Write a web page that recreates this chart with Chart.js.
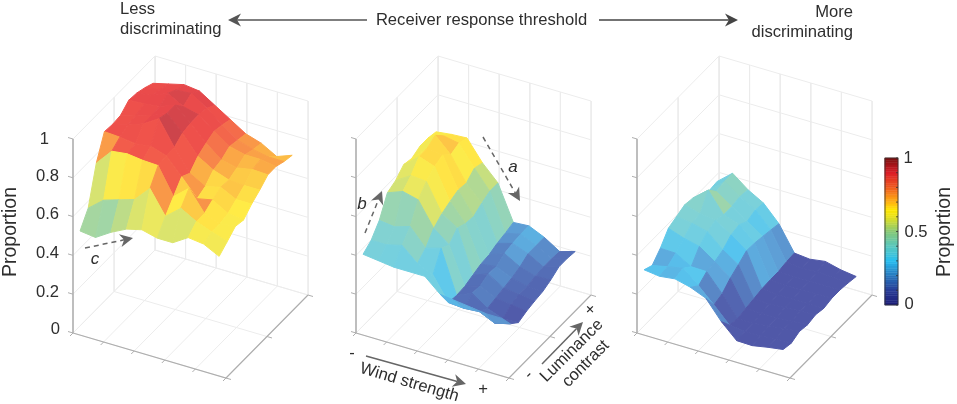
<!DOCTYPE html>
<html>
<head>
<meta charset="utf-8">
<title>Proportion surfaces</title>
<script src="https://cdn.jsdelivr.net/npm/chart.js@4/dist/chart.umd.min.js"></script>
<style>
html, body { margin: 0; padding: 0; background: #fff; }
canvas { display: block; }
</style>
</head>
<body>
<canvas id="chart" width="957" height="404"></canvas>
<script>
// proportion: rows = luminance contrast (front to back), columns = wind strength
const lessDiscriminating = [
    [.52, .51, .56, .60, .62, .60, .60, .65, .64, .60],
    [.595, .66, .685, .71, .79, .67, .735, .69, .66, .634],
    [.785, .87, .88, .87, .866, .73, .796, .69, .66, .67],
    [.905, .90, .89, .90, .875, .79, .70, .717, .67, .66],
    [.90, .92, .95, 1.0, .875, .765, .72, .74, .70, .70],
    [.905, .93, .95, .985, .906, .81, .763, .735, .73, .73],
    [.94, .945, .955, .985, .915, .835, .773, .755, .77, .766],
    [.935, .945, .98, .935, .916, .855, .80, .78, .78, .767],
    [.92, .935, .955, .96, .907, .845, .79, .765, .75, .75],
    [.90, .92, .94, .93, .88, .83, .78, .755, .71, .74],
];
const midDiscriminating = [
    [.40, .39, .38, .38, .38, .31, .30, .29, .28, .28],
    [.43, .43, .45, .38, .345, .226, .22, .226, .19, .21],
    [.49, .48, .505, .417, .44, .22, .255, .20, .17, .174],
    [.59, .62, .60, .477, .415, .224, .25, .21, .20, .19],
    [.61, .66, .652, .51, .46, .24, .27, .22, .21, .20],
    [.65, .715, .687, .53, .44, .255, .265, .23, .21, .207],
    [.64, .716, .705, .547, .434, .26, .29, .245, .22, .225],
    [.66, .74, .663, .54, .46, .277, .30, .27, .225, .25],
    [.66, .695, .68, .575, .48, .287, .305, .27, .225, .25],
    [.65, .66, .665, .56, .48, .30, .306, .27, .22, .244],
];
const moreDiscriminating = [
    [.32, .31, .32, .30, .267, .17, .095, .093, .108, .12],
    [.30, .317, .332, .265, .19, .11, .10, .10, .11, .11],
    [.346, .344, .298, .296, .205, .10, .10, .11, .12, .128],
    [.407, .379, .36, .305, .243, .11, .11, .11, .115, .12],
    [.425, .414, .394, .323, .27, .118, .115, .12, .125, .13],
    [.443, .42, .41, .358, .30, .127, .12, .12, .12, .12],
    [.435, .50, .396, .368, .297, .13, .125, .125, .13, .13],
    [.41, .45, .396, .343, .289, .13, .13, .13, .13, .13],
    [.388, .46, .405, .36, .28, .138, .13, .135, .13, .124],
    [.394, .46, .398, .353, .27, .142, .134, .146, .126, .115],
];
const windTicks = [0, 0.2, 0.4, 0.6, 0.8, 1];
const contrastTicks = [0, 0.5, 1];
const proportionTicks = [0, 0.2, 0.4, 0.6, 0.8, 1];
const proportionLabels = ["0", "0.2", "0.4", "0.6", "0.8", "1"];
const colorbarTicks = [0, 0.1, 0.2, 0.3, 0.4, 0.5, 0.6, 0.7, 0.8, 0.9, 1];
const panelOrigins = [73, 356, 637];

// value -> washed out face colour
const faceStops = [
    [.16, 80, 88, 168], [.2, 82, 98, 175], [.26, 88, 130, 195], [.295, 95, 165, 218],
    [.325, 85, 198, 240], [.38, 115, 207, 225], [.43, 130, 210, 210], [.47, 145, 212, 190],
    [.52, 165, 214, 160], [.57, 195, 222, 130], [.62, 235, 232, 95], [.67, 255, 235, 70],
    [.72, 254, 215, 70], [.77, 251, 170, 70], [.82, 246, 125, 75], [.88, 241, 85, 75],
    [.95, 232, 72, 75], [1, 205, 68, 75],
];
const barStops = [
    [0, 30, 30, 120], [.1, 40, 60, 150], [.2, 40, 120, 190], [.3, 40, 190, 240],
    [.4, 90, 200, 190], [.5, 135, 200, 120], [.6, 230, 225, 30], [.65, 255, 230, 0],
    [.7, 255, 180, 20], [.8, 240, 90, 30], [.9, 220, 30, 40], [1, 120, 15, 15],
];

function pickColor(stops, v) {
    if (v <= stops[0][0]) return `rgb(${stops[0].slice(1).join(",")})`;
    for (let k = 1; k < stops.length; k++) {
        if (v <= stops[k][0]) {
            const a = stops[k - 1], b = stops[k];
            const t = (v - a[0]) / (b[0] - a[0]);
            const c = [1, 2, 3].map((n) => Math.round(a[n] + (b[n] - a[n]) * t));
            return `rgb(${c.join(",")})`;
        }
    }
    return `rgb(${stops[stops.length - 1].slice(1).join(",")})`;
}

// 3D box -> page position
function project(x0, wind, contrast, z) {
    return {
        x: x0 + wind * 153 + contrast * 82,
        y: 333 + wind * 45 - contrast * 83 - z * 194,
    };
}

function lineSet(points, color, width) {
    return {
        data: points, showLine: true, pointRadius: 0, fill: false,
        borderColor: color, borderWidth: width, tension: 0,
    };
}

function boxDatasets(x0) {
    const sets = [];
    const grid = "#ececec", axis = "#aeaeae";
    proportionTicks.forEach((z) => {
        sets.push(lineSet([project(x0, 0, 0, z), project(x0, 0, 1, z), project(x0, 1, 1, z)], grid, 1));
    });
    windTicks.forEach((u) => {
        sets.push(lineSet([project(x0, u, 1, 1), project(x0, u, 1, 0), project(x0, u, 0, 0)], grid, 1));
    });
    contrastTicks.forEach((v) => {
        sets.push(lineSet([project(x0, 0, v, 1), project(x0, 0, v, 0), project(x0, 1, v, 0)], grid, 1));
    });
    sets.push(lineSet([project(x0, 0, 0, 0), project(x0, 0, 0, 1)], axis, 1.5));
    sets.push(lineSet([project(x0, 0, 0, 0), project(x0, 1, 0, 0), project(x0, 1, 1, 0)], axis, 1.2));
    proportionTicks.forEach((z) => {
        const p = project(x0, 0, 0, z);
        sets.push(lineSet([p, { x: p.x - 5, y: p.y - 1.5 }], axis, 1));
    });
    windTicks.forEach((u) => {
        const p = project(x0, u, 0, 0);
        sets.push(lineSet([p, { x: p.x - 3, y: p.y + 3 }], axis, 1));
    });
    contrastTicks.forEach((v) => {
        const p = project(x0, 1, v, 0);
        sets.push(lineSet([p, { x: p.x + 5, y: p.y + 1.5 }], axis, 1));
    });
    return sets;
}

function surfaceDatasets(x0, heights) {
    const sets = [];
    const at = (i, j) => project(x0, 0.03 + 0.101 * i, 0.03 + 0.099 * j, heights[j][i]);
    // back rows first, the front ones paint over them
    for (let j = heights.length - 2; j >= 0; j--) {
        for (let i = 0; i < heights[j].length - 1; i++) {
            const color = pickColor(faceStops, heights[j][i]);
            sets.push({
                data: [at(i, j), at(i + 1, j), at(i + 1, j + 1), at(i, j + 1), at(i, j)],
                showLine: true, pointRadius: 0, tension: 0, fill: "shape",
                backgroundColor: color, borderColor: color, borderWidth: 1,
            });
        }
    }
    return sets;
}

function colorbarDatasets() {
    const sets = [];
    const toY = (v) => 305 - v * 147;
    for (let k = 0; k < 64; k++) {
        const color = pickColor(barStops, (k + 0.5) / 64);
        const a = toY(k / 64), b = toY((k + 1) / 64);
        sets.push({
            data: [{ x: 885, y: a }, { x: 898, y: a }, { x: 898, y: b }, { x: 885, y: b }, { x: 885, y: a }],
            showLine: true, pointRadius: 0, fill: "shape",
            backgroundColor: color, borderColor: color, borderWidth: 0.5,
        });
    }
    colorbarTicks.forEach((v) => {
        sets.push(lineSet([{ x: 896, y: toY(v) }, { x: 898, y: toY(v) }], "#333", 0.8));
    });
    return sets;
}

// painted in list order here, Chart.js draws the first dataset last so it is reversed below
let allSets = [];
panelOrigins.forEach((x0) => { allSets = allSets.concat(boxDatasets(x0)); });
allSets = allSets.concat(surfaceDatasets(panelOrigins[0], lessDiscriminating));
allSets = allSets.concat(surfaceDatasets(panelOrigins[1], midDiscriminating));
allSets = allSets.concat(surfaceDatasets(panelOrigins[2], moreDiscriminating));
allSets = allSets.concat(colorbarDatasets());
allSets.reverse();

function label(ctx, text, x, y, size, opts) {
    const o = opts || {};
    ctx.save();
    ctx.translate(x, y);
    ctx.rotate((o.angle || 0) * Math.PI / 180);
    ctx.font = `${o.italic ? "italic " : ""}${size}px "Liberation Sans", Arial, sans-serif`;
    ctx.fillStyle = o.color || "#2e2e2e";
    ctx.textAlign = o.align || "center";
    ctx.textBaseline = "alphabetic";
    ctx.fillText(text, 0, 0);
    ctx.restore();
}

function arrow(ctx, x1, y1, x2, y2, opts) {
    const o = opts || {};
    const ang = Math.atan2(y2 - y1, x2 - x1);
    const len = o.head || 13;
    ctx.save();
    ctx.strokeStyle = o.color || "#666";
    ctx.fillStyle = o.color || "#666";
    ctx.lineWidth = o.width || 1.5;
    ctx.setLineDash(o.dash || []);
    ctx.beginPath();
    ctx.moveTo(x1, y1);
    ctx.lineTo(x2 - Math.cos(ang) * len * 0.7, y2 - Math.sin(ang) * len * 0.7);
    ctx.stroke();
    ctx.setLineDash([]);
    ctx.translate(x2, y2);
    ctx.rotate(ang);
    ctx.beginPath();
    ctx.moveTo(0, 0);
    ctx.lineTo(-len, -len * 0.5);
    ctx.lineTo(-len * 0.7, 0);
    ctx.lineTo(-len, len * 0.5);
    ctx.closePath();
    ctx.fill();
    ctx.restore();
}

const annotations = {
    id: "annotations",
    afterDraw(chart) {
        const ctx = chart.ctx;
        // header
        label(ctx, "Less", 120, 14, 16.6, { align: "left" });
        label(ctx, "discriminating", 120, 34, 16.6, { align: "left" });
        label(ctx, "Receiver response threshold", 481.5, 25, 16.6);
        label(ctx, "More", 853, 17, 16.6, { align: "right" });
        label(ctx, "discriminating", 853, 37, 16.6, { align: "right" });
        arrow(ctx, 367, 20, 228, 20, { color: "#555" });
        arrow(ctx, 599, 20, 738, 20, { color: "#444" });
        // z axis of the first panel
        const tickPos = [[60, 334], [59, 297], [59, 258], [59, 219], [59, 181], [49, 144]];
        proportionLabels.forEach((t, k) => {
            label(ctx, t, tickPos[k][0], tickPos[k][1], 16.6, { align: "right" });
        });
        label(ctx, "Proportion", 16, 232, 19.5, { angle: -90 });
        // arrows on the surfaces
        arrow(ctx, 85, 248, 133, 238, { dash: [5, 4] });
        label(ctx, "c", 95, 264, 17, { italic: true });
        arrow(ctx, 483, 137, 520, 201, { dash: [5, 4] });
        label(ctx, "a", 513, 172, 17, { italic: true });
        arrow(ctx, 365, 233, 382, 191, { dash: [5, 4] });
        label(ctx, "b", 362, 209, 17, { italic: true });
        // middle panel axis names
        label(ctx, "-", 352, 358, 16.6);
        arrow(ctx, 366, 356, 466, 384, { color: "#666" });
        label(ctx, "+", 483, 394, 16.6);
        label(ctx, "Wind strength", 408, 387, 16.6, { angle: 16.4 });
        label(ctx, "-", 532, 378, 16.6, { angle: -45 });
        arrow(ctx, 542, 364, 583, 322, { color: "#666" });
        label(ctx, "+", 594, 313, 16.6, { angle: -45 });
        label(ctx, "Luminance", 575, 354, 16.6, { angle: -45 });
        label(ctx, "contrast", 589, 367, 16.6, { angle: -45 });
        // colorbar
        ctx.strokeStyle = "#333";
        ctx.lineWidth = 0.8;
        ctx.strokeRect(885, 158, 13, 147);
        label(ctx, "1", 908, 163, 16.6);
        label(ctx, "0.5", 916, 237, 16.6);
        label(ctx, "0", 909, 309, 16.6);
        label(ctx, "Proportion", 950, 232, 19.5, { angle: -90 });
    },
};

new Chart(document.getElementById("chart"), {
    type: "scatter",
    data: { datasets: allSets },
    options: {
        responsive: false,
        animation: false,
        events: [],
        layout: { padding: 0 },
        plugins: { legend: { display: false }, tooltip: { enabled: false } },
        scales: {
            x: { type: "linear", display: false, min: 0, max: 957 },
            y: { type: "linear", display: false, min: 0, max: 404, reverse: true },
        },
    },
    plugins: [annotations],
});
</script>
</body>
</html>
